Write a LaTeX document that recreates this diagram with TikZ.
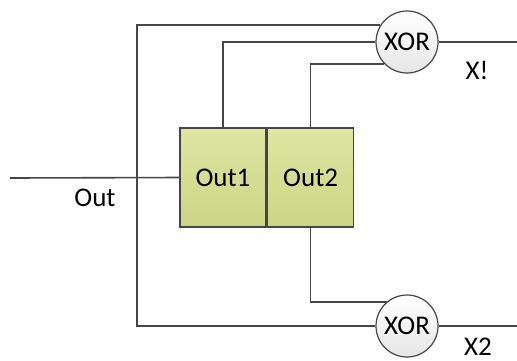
\documentclass[tikz,border=0pt]{standalone}
\usepackage{fontspec}
\setmainfont{Carlito}
\usetikzlibrary{positioning, calc}

\definecolor{cellgreen}{RGB}{214,224,140}
\definecolor{wire}{RGB}{70,70,70}

\begin{document}
\begin{tikzpicture}[x=0.5pt, y=-0.5pt, font=\fontsize{13.5}{16}\selectfont,
    cell/.style={draw=wire, line width=0.8pt, top color=cellgreen!80!white, bottom color=cellgreen!95!black,
                 minimum width=43pt, minimum height=49.5pt, inner sep=0pt},
    gate/.style={circle, draw=wire, line width=0.6pt, top color=white, bottom color=black!10,
                 minimum size=31pt, inner sep=0pt},
    wireline/.style={draw=wire, line width=0.8pt}]
\useasboundingbox (0,0) rectangle (517,360);

% Register
\node[cell] (out1) at (223,177.5) {Out1};
\node[cell, right=0pt of out1] (out2) {Out2};

% Gates
\node[gate] (xora) at (407,42) {XOR};
\node[gate] (xorb) at (407,326) {XOR};

% Ends of the wires
\coordinate (in) at (10,178);
\coordinate (bus) at (137,178);
\coordinate (xa) at (517,42);
\coordinate (xb) at (517,326);

% Wires
\draw[wireline] (in) -- (out1.west);
\draw[wireline] (xora.148) -| (bus) |- (xorb.west);
\draw[wireline] (out1.north) |- (xora.west);
\draw[wireline] (out2.north) |- (xora.224);
\draw[wireline] (out2.south) |- (xorb.130);
\draw[wireline] (xora.east) -- (xa);
\draw[wireline] (xorb.east) -- (xb);

% Labels
\node (outlbl) at (95,198) {Out};
\node (x1lbl) at (477,70) {X!};
\node (x2lbl) at (478,347) {X2};
\end{tikzpicture}
\end{document}
